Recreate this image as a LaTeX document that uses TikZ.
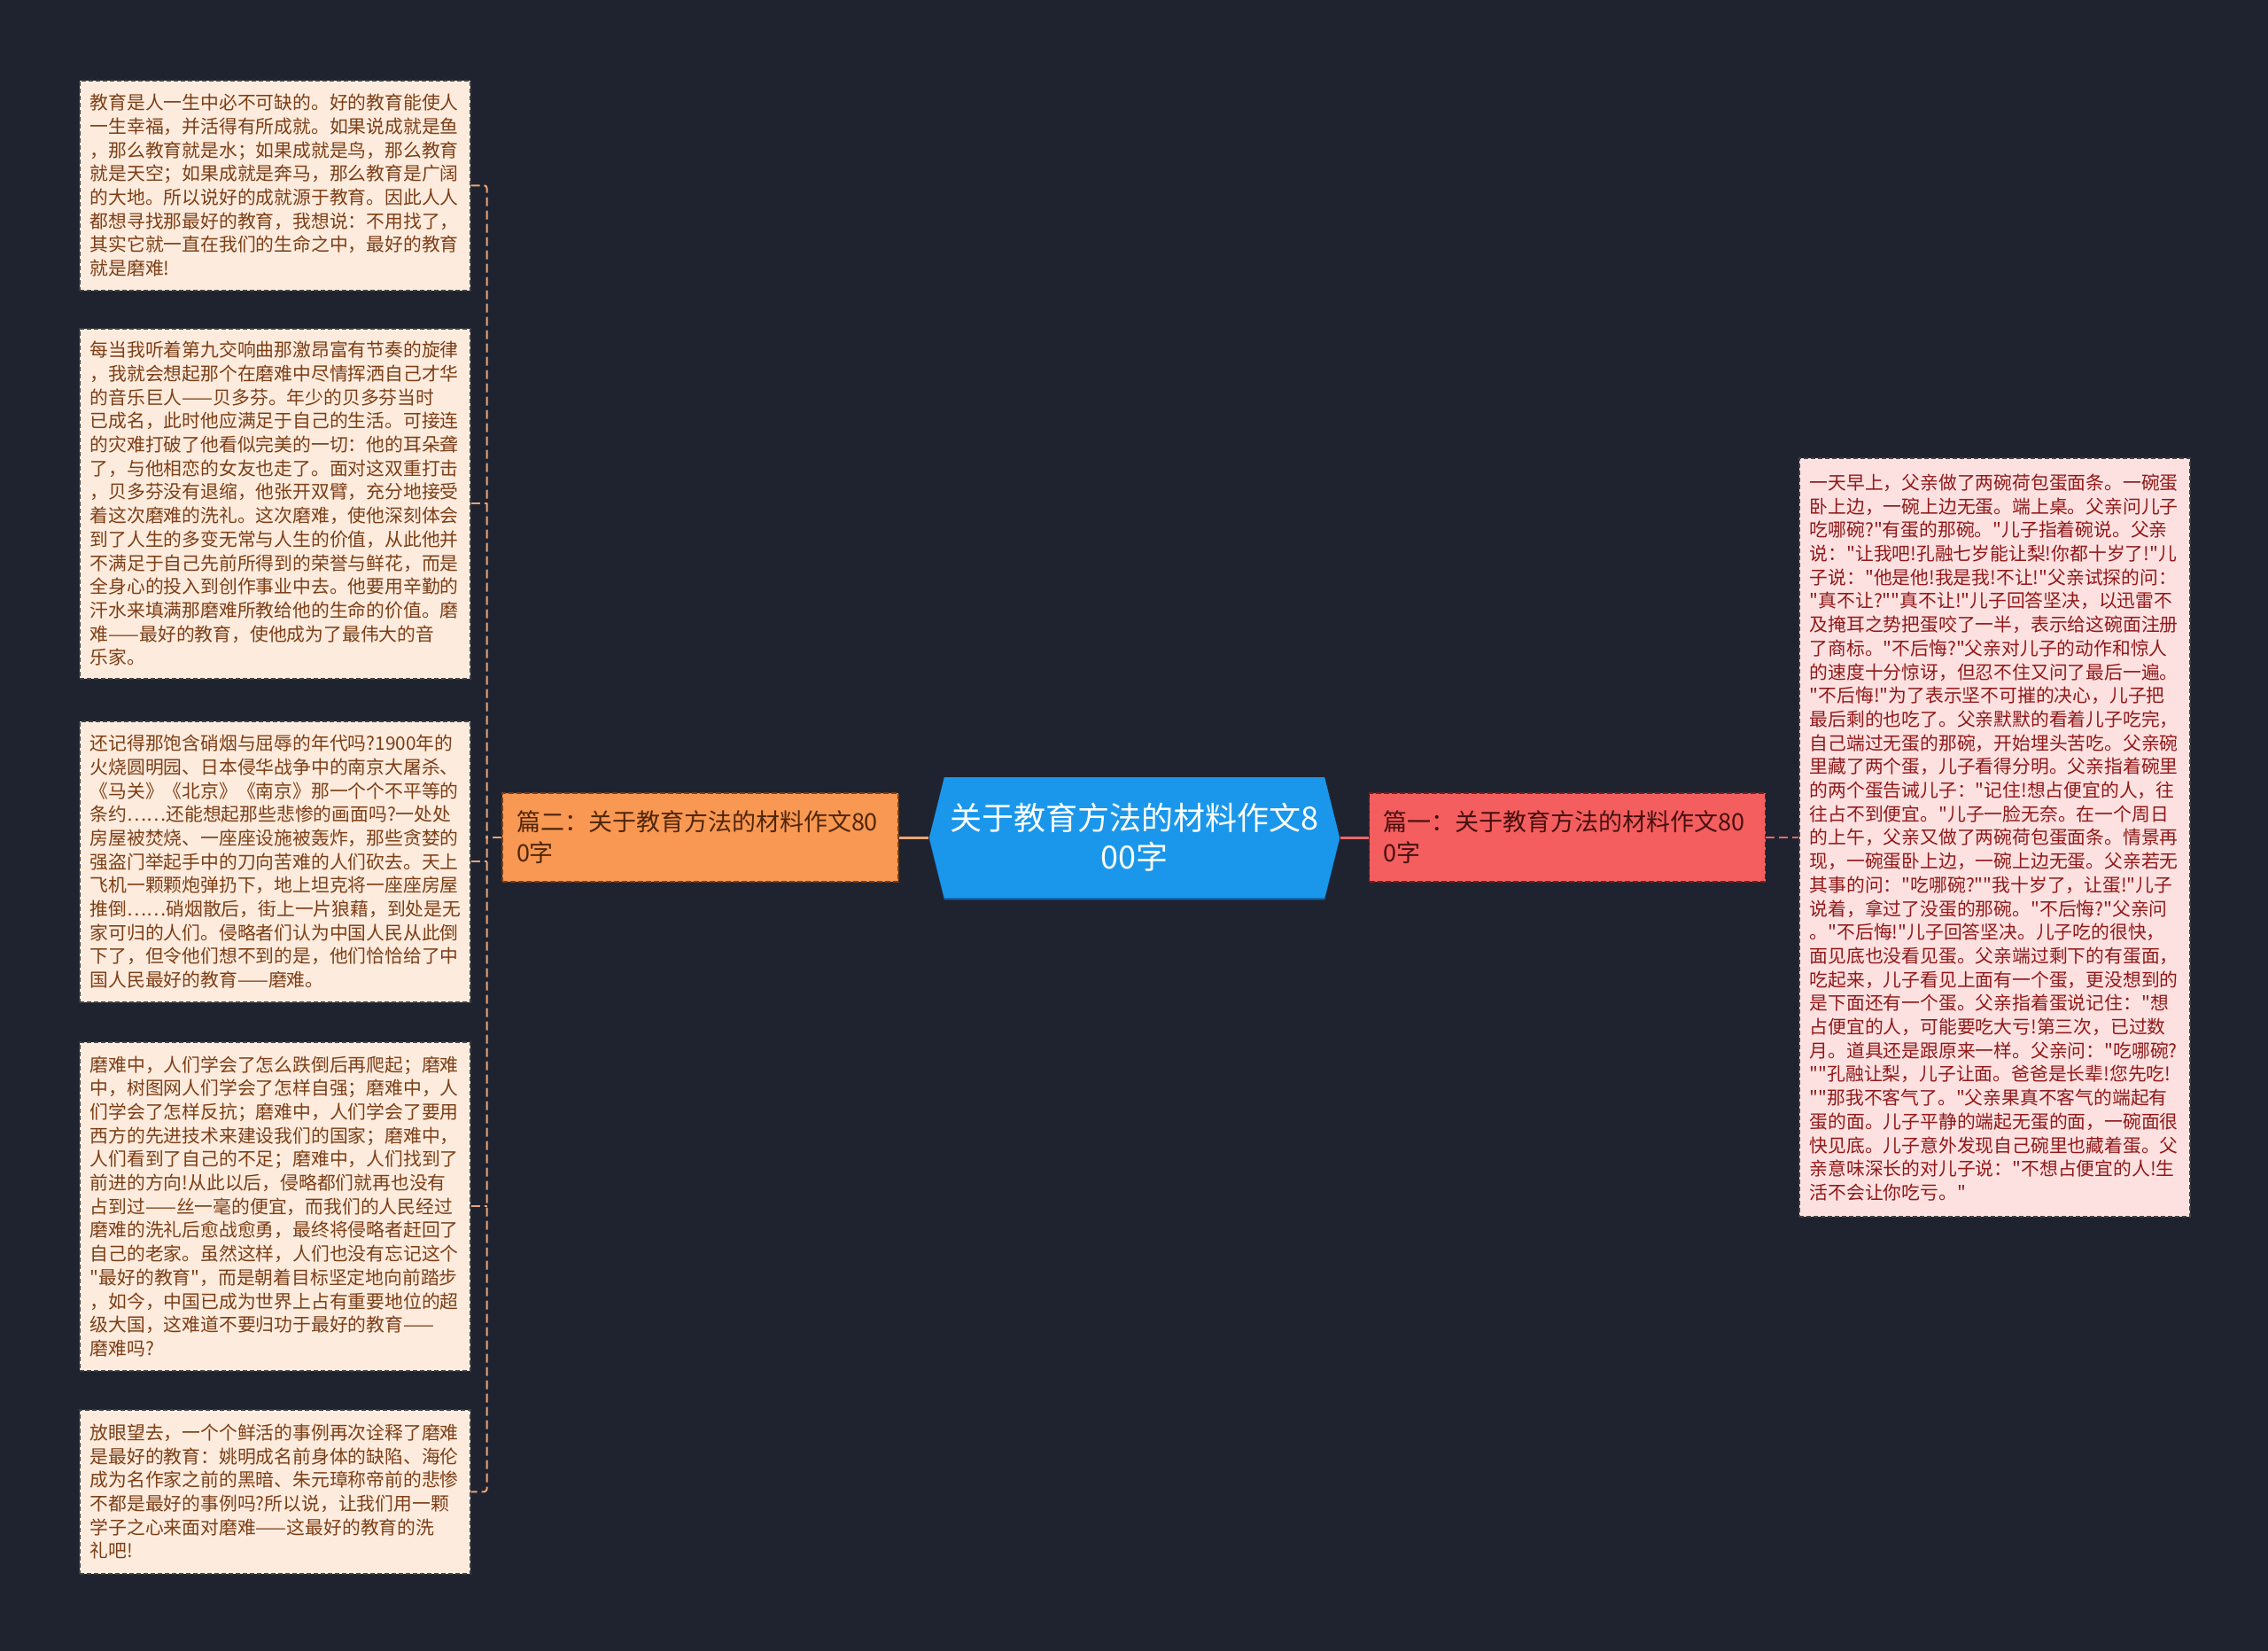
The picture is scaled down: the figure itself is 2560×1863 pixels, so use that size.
\documentclass[tikz,border=0pt]{standalone}
\usepackage{fontspec}
\setmainfont{Noto Sans CJK SC}[Ligatures=TeXOff]
\usepackage{xcolor}
\usepackage{tikz}
\usetikzlibrary{shapes.symbols,shadows}

\definecolor{bgdark}{RGB}{31,35,48}
\definecolor{leafpeach}{RGB}{253,236,222}
\definecolor{leafbrown}{RGB}{125,62,22}
\definecolor{leafpink}{RGB}{253,225,225}
\definecolor{leafred}{RGB}{145,25,25}
\definecolor{rootblue}{RGB}{26,151,235}
\definecolor{rootshade}{RGB}{18,100,170}
\definecolor{branchorange}{RGB}{248,152,82}
\definecolor{branchred}{RGB}{244,94,94}
\definecolor{lineorange}{RGB}{236,165,118}
\definecolor{linered}{RGB}{232,104,104}

\begin{document}
\begin{tikzpicture}[x=0.5pt,y=-0.5pt,
		leaf/.style={draw=black!75, line width=0.75pt, dash pattern=on 2.5pt off 1.5pt,
			fill=leafpeach, text=leafbrown, font=\fontsize{10.4pt}{13.35pt}\selectfont,
			text width=208.5pt, inner xsep=6pt, inner ysep=0pt, align=left, anchor=north west},
		branch/.style={line width=0.75pt, dash pattern=on 3pt off 1.5pt,
			font=\fontsize{13.5pt}{17.5pt}\selectfont, text width=207.5pt, inner xsep=8pt,
			minimum width=223.5pt, minimum height=50pt, align=left},
		root/.style={shape=signal, signal to=east and west, signal pointer angle=152,
			fill=rootblue, text=white, font=\fontsize{18pt}{22pt}\selectfont,
			minimum width=228.5pt, minimum height=68pt, align=center,
			drop shadow={shadow xshift=0pt, shadow yshift=-1.2pt, fill=rootshade, opacity=1}},
		trunk/.style={line width=1.5pt},
		twig/.style={line width=1pt, dash pattern=on 5pt off 2.5pt}]

	\fill[bgdark] (0,0) rectangle (2560,1863);

	\node[root] (root) at (1280.5,945) {关于教育方法的材料作文8\\00字};

	\node[branch, fill=branchorange, draw={rgb,255:red,125;green,62;blue,20}, text={rgb,255:red,80;green,38;blue,10}]
		(b2) at (790.5,945) {篇二：关于教育方法的材料作文80\\0字};
	\node[branch, fill=branchred, draw={rgb,255:red,120;green,30;blue,30}, text={rgb,255:red,70;green,15;blue,15}]
		(b1) at (1769,945) {篇一：关于教育方法的材料作文80\\0字};

	% left side
	\node[leaf, minimum height=118.5pt] (l1) at (89,90) {教育是人一生中必不可缺的。好的教育能使人\\
		一生幸福，并活得有所成就。如果说成就是鱼\\
		，那么教育就是水；如果成就是鸟，那么教育\\
		就是天空；如果成就是奔马，那么教育是广阔\\
		的大地。所以说好的成就源于教育。因此人人\\
		都想寻找那最好的教育，我想说：不用找了，\\
		其实它就一直在我们的生命之中，最好的教育\\
		就是磨难!};
	\node[leaf, minimum height=197.5pt] (l2) at (89,370) {每当我听着第九交响曲那激昂富有节奏的旋律\\
		，我就会想起那个在磨难中尽情挥洒自己才华\\
		的音乐巨人——贝多芬。年少的贝多芬当时\\
		已成名，此时他应满足于自己的生活。可接连\\
		的灾难打破了他看似完美的一切：他的耳朵聋\\
		了，与他相恋的女友也走了。面对这双重打击\\
		，贝多芬没有退缩，他张开双臂，充分地接受\\
		着这次磨难的洗礼。这次磨难，使他深刻体会\\
		到了人生的多变无常与人生的价值，从此他并\\
		不满足于自己先前所得到的荣誉与鲜花，而是\\
		全身心的投入到创作事业中去。他要用辛勤的\\
		汗水来填满那磨难所教给他的生命的价值。磨\\
		难——最好的教育，使他成为了最伟大的音\\
		乐家。};
	\node[leaf, minimum height=158.5pt] (l3) at (89,813) {还记得那饱含硝烟与屈辱的年代吗?1900年的\\
		火烧圆明园、日本侵华战争中的南京大屠杀、\\
		《马关》《北京》《南京》那一个个不平等的\\
		条约……还能想起那些悲惨的画面吗?一处处\\
		房屋被焚烧、一座座设施被轰炸，那些贪婪的\\
		强盗门举起手中的刀向苦难的人们砍去。天上\\
		飞机一颗颗炮弹扔下，地上坦克将一座座房屋\\
		推倒……硝烟散后，街上一片狼藉，到处是无\\
		家可归的人们。侵略者们认为中国人民从此倒\\
		下了，但令他们想不到的是，他们恰恰给了中\\
		国人民最好的教育——磨难。};
	\node[leaf, minimum height=185.5pt] (l4) at (89,1175) {磨难中，人们学会了怎么跌倒后再爬起；磨难\\
		中，树图网人们学会了怎样自强；磨难中，人\\
		们学会了怎样反抗；磨难中，人们学会了要用\\
		西方的先进技术来建设我们的国家；磨难中，\\
		人们看到了自己的不足；磨难中，人们找到了\\
		前进的方向!从此以后，侵略都们就再也没有\\
		占到过——丝一毫的便宜，而我们的人民经过\\
		磨难的洗礼后愈战愈勇，最终将侵略者赶回了\\
		自己的老家。虽然这样，人们也没有忘记这个\\
		"最好的教育"，而是朝着目标坚定地向前踏步\\
		，如今，中国已成为世界上占有重要地位的超\\
		级大国，这难道不要归功于最好的教育——\\
		磨难吗?};
	\node[leaf, minimum height=92.5pt] (l5) at (89,1590) {放眼望去，一个个鲜活的事例再次诠释了磨难\\
		是最好的教育：姚明成名前身体的缺陷、海伦\\
		成为名作家之前的黑暗、朱元璋称帝前的悲惨\\
		不都是最好的事例吗?所以说，让我们用一颗\\
		学子之心来面对磨难——这最好的教育的洗\\
		礼吧!};

	% right side
	\node[leaf, fill=leafpink, text=leafred, anchor=west, minimum height=428pt] (r1) at (2030,945) {一天早上，父亲做了两碗荷包蛋面条。一碗蛋\\
		卧上边，一碗上边无蛋。端上桌。父亲问儿子\\
		吃哪碗?"有蛋的那碗。"儿子指着碗说。父亲\\
		说："让我吧!孔融七岁能让梨!你都十岁了!"儿\\
		子说："他是他!我是我!不让!"父亲试探的问：\\
		"真不让?""真不让!"儿子回答坚决，以迅雷不\\
		及掩耳之势把蛋咬了一半，表示给这碗面注册\\
		了商标。"不后悔?"父亲对儿子的动作和惊人\\
		的速度十分惊讶，但忍不住又问了最后一遍。\\
		"不后悔!"为了表示坚不可摧的决心，儿子把\\
		最后剩的也吃了。父亲默默的看着儿子吃完，\\
		自己端过无蛋的那碗，开始埋头苦吃。父亲碗\\
		里藏了两个蛋，儿子看得分明。父亲指着碗里\\
		的两个蛋告诫儿子："记住!想占便宜的人，往\\
		往占不到便宜。"儿子一脸无奈。在一个周日\\
		的上午，父亲又做了两碗荷包蛋面条。情景再\\
		现，一碗蛋卧上边，一碗上边无蛋。父亲若无\\
		其事的问："吃哪碗?""我十岁了，让蛋!"儿子\\
		说着，拿过了没蛋的那碗。"不后悔?"父亲问\\
		。"不后悔!"儿子回答坚决。儿子吃的很快，\\
		面见底也没看见蛋。父亲端过剩下的有蛋面，\\
		吃起来，儿子看见上面有一个蛋，更没想到的\\
		是下面还有一个蛋。父亲指着蛋说记住："想\\
		占便宜的人，可能要吃大亏!第三次，已过数\\
		月。道具还是跟原来一样。父亲问："吃哪碗?\\
		""孔融让梨，儿子让面。爸爸是长辈!您先吃!\\
		""那我不客气了。"父亲果真不客气的端起有\\
		蛋的面。儿子平静的端起无蛋的面，一碗面很\\
		快见底。儿子意外发现自己碗里也藏着蛋。父\\
		亲意味深长的对儿子说："不想占便宜的人!生\\
		活不会让你吃亏。"};

	% connectors
	\draw[trunk, lineorange] (root.west) -- (b2.east);
	\draw[trunk, linered] (root.east) -- (b1.west);
	\draw[twig, linered] (b1.east) -- (r1.west);
	\draw[twig, lineorange] (b2.west) -- ++(-9pt,0);
	\draw[twig, lineorange, rounded corners=1.5pt] (l1.east) -- ++(9pt,0) |- (l5.east);
	\foreach \n in {2,3,4}
		\draw[twig, lineorange] (l\n.east) -- ++(9pt,0);
\end{tikzpicture}
\end{document}
